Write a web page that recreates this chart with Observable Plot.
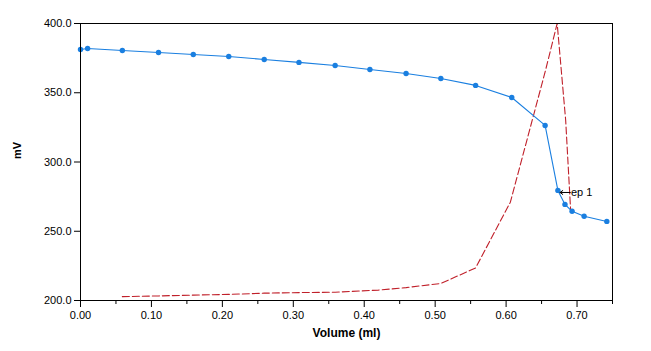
<!DOCTYPE html>
<html>
<head>
<meta charset="utf-8">
<script src="https://cdn.jsdelivr.net/npm/d3@7"></script>
<script src="https://cdn.jsdelivr.net/npm/@observablehq/plot@0.6"></script>
<style>
  html, body { margin: 0; padding: 0; background: #fff; }
  #chart svg { display: block; }
</style>
</head>
<body>
<div id="chart"></div>
<script>
// Titration curve (mV vs volume)
const volume = [0.000, 0.010, 0.059, 0.110, 0.159, 0.209, 0.259, 0.308, 0.359, 0.408, 0.459, 0.508, 0.557, 0.608, 0.655, 0.673, 0.683, 0.693, 0.710, 0.742];
const mV     = [381.2, 382.0, 380.5, 379.1, 377.6, 376.2, 374.0, 371.9, 369.7, 366.8, 363.9, 360.3, 355.3, 346.6, 326.4, 279.5, 269.4, 264.4, 260.8, 257.1];

// First-derivative curve (scaled to the mV axis)
const dVolume = [0.059, 0.110, 0.159, 0.209, 0.259, 0.308, 0.359, 0.420, 0.459, 0.508, 0.557, 0.606, 0.655, 0.672, 0.684, 0.691];
const dValue  = [202.8, 203.3, 203.9, 204.4, 205.3, 205.7, 206.0, 207.5, 209.3, 212.3, 223.5, 271.0, 365.0, 400.0, 330.0, 265.0];

// Endpoint annotation
const epIndex = 15;
const epLabel = "ep 1";

const xMajor = [0, 0.1, 0.2, 0.3, 0.4, 0.5, 0.6, 0.7];
const xMinor = [0.05, 0.15, 0.25, 0.35, 0.45, 0.55, 0.65, 0.75];
const yTicks = [200, 250, 300, 350, 400];

const curve = volume.map((v, i) => ({x: v, y: mV[i]}));
const deriv = dVolume.map((v, i) => ({x: v, y: dValue[i]}));
const ep = curve[epIndex];

const chart = Plot.plot({
  width: 651,
  height: 351,
  marginLeft: 80,
  marginTop: 23,
  marginRight: 39,
  marginBottom: 51,
  style: {fontFamily: "'Liberation Sans', Arial, sans-serif", fontSize: "11px", color: "#000", background: "#fff"},
  x: {domain: [0, 0.75]},
  y: {domain: [200, 400]},
  marks: [
    Plot.axisX({ticks: xMinor, tickSize: 4, text: null, label: null}),
    Plot.axisX({ticks: xMajor, tickSize: 7, tickPadding: 4, tickFormat: d3.format(".2f"), label: null}),
    Plot.axisY({ticks: yTicks, tickSize: 6, tickPadding: 3, tickFormat: d3.format(".1f"), label: null}),
    Plot.line(deriv, {x: "x", y: "y", stroke: "#c0202a", strokeWidth: 1.1, strokeDasharray: "7,3"}),
    Plot.line(curve, {x: "x", y: "y", stroke: "#1a7fe0", strokeWidth: 1.1}),
    Plot.dot(curve, {x: "x", y: "y", r: 2.7, fill: "#1a7fe0", stroke: "none"}),
    Plot.arrow([ep], {x1: d => d.x + 0.0175, x2: d => d.x + 0.003, y1: d => d.y - 1.5, y2: d => d.y - 1.5, stroke: "#000", strokeWidth: 1, headLength: 5, headAngle: 70}),
    Plot.text([ep], {x: d => d.x + 0.0185, y: d => d.y - 1.5, text: () => epLabel, textAnchor: "start", fill: "#000", fontSize: 11}),
    Plot.frame({stroke: "#000", strokeWidth: 1}),
    Plot.text(["Volume (ml)"], {frameAnchor: "bottom", dy: 36, text: d => d, fontWeight: "bold", fontSize: 12, fill: "#000"}),
    Plot.text(["mV"], {frameAnchor: "left", dx: -63, dy: -3, rotate: -90, text: d => d, fontWeight: "bold", fontSize: 11, fill: "#000"})
  ]
});
document.getElementById("chart").appendChild(chart);
</script>
</body>
</html>
